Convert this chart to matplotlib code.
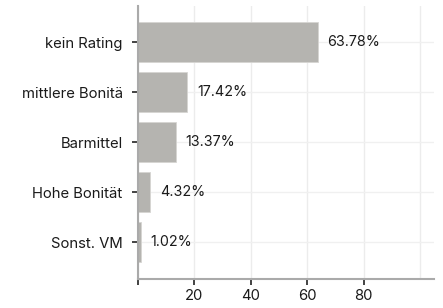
import matplotlib
matplotlib.use("Agg")
import matplotlib.pyplot as plt

plt.rcParams["font.family"] = ["Inter", "DejaVu Sans"]

kategorien = ["kein Rating", "mittlere Bonitä", "Barmittel", "Hohe Bonität", "Sonst. VM"]
anteile = [63.78, 17.42, 13.37, 4.32, 1.02]
beschriftungen = ["63.78%", "17.42%", "13.37%", "4.32%", "1.02%"]
x_ticks = [0, 20, 40, 60, 80]
x_tick_labels = ["", "20", "40", "60", "80"]

fig = plt.figure(figsize=(4.43, 3.08), dpi=100)
ax = fig.add_axes([0.3115, 0.094, 0.6685, 0.8865])

pos = list(range(len(kategorien)))
ax.barh(pos, anteile, height=0.8, color="#b5b4b0", edgecolor="#d6d5d2", linewidth=0.6, zorder=2)

for p, v, txt in zip(pos, anteile, beschriftungen):
    ax.annotate(txt, (v, p), xytext=(7, 0), textcoords="offset points",
                va="center", ha="left", fontsize=10.3, color="#1a1a1a")

ax.set_yticks(pos)
ax.set_yticklabels(kategorien)
ax.set_ylim(len(kategorien) - 0.26, -0.72)
ax.set_xlim(0, 105)
ax.set_xticks(x_ticks)
ax.set_xticklabels(x_tick_labels)
ax.set_xticks([100], minor=True)

ax.grid(True, which="both", axis="x", color="#ececec", linewidth=1, zorder=0)
ax.grid(True, axis="y", color="#f0f0f0", linewidth=1, zorder=0)
ax.tick_params(axis="x", which="minor", length=0)
ax.tick_params(axis="both", which="major", length=4, width=1.2, color="#222222",
               labelsize=10.7, labelcolor="#1a1a1a")
ax.tick_params(axis="y", pad=7)
ax.tick_params(axis="x", pad=3)

for s in ["top", "right"]:
    ax.spines[s].set_visible(False)
for s in ["left", "bottom"]:
    ax.spines[s].set_color("#aaaaaa")
    ax.spines[s].set_linewidth(1.5)

fig.savefig("out.png", dpi=100)
